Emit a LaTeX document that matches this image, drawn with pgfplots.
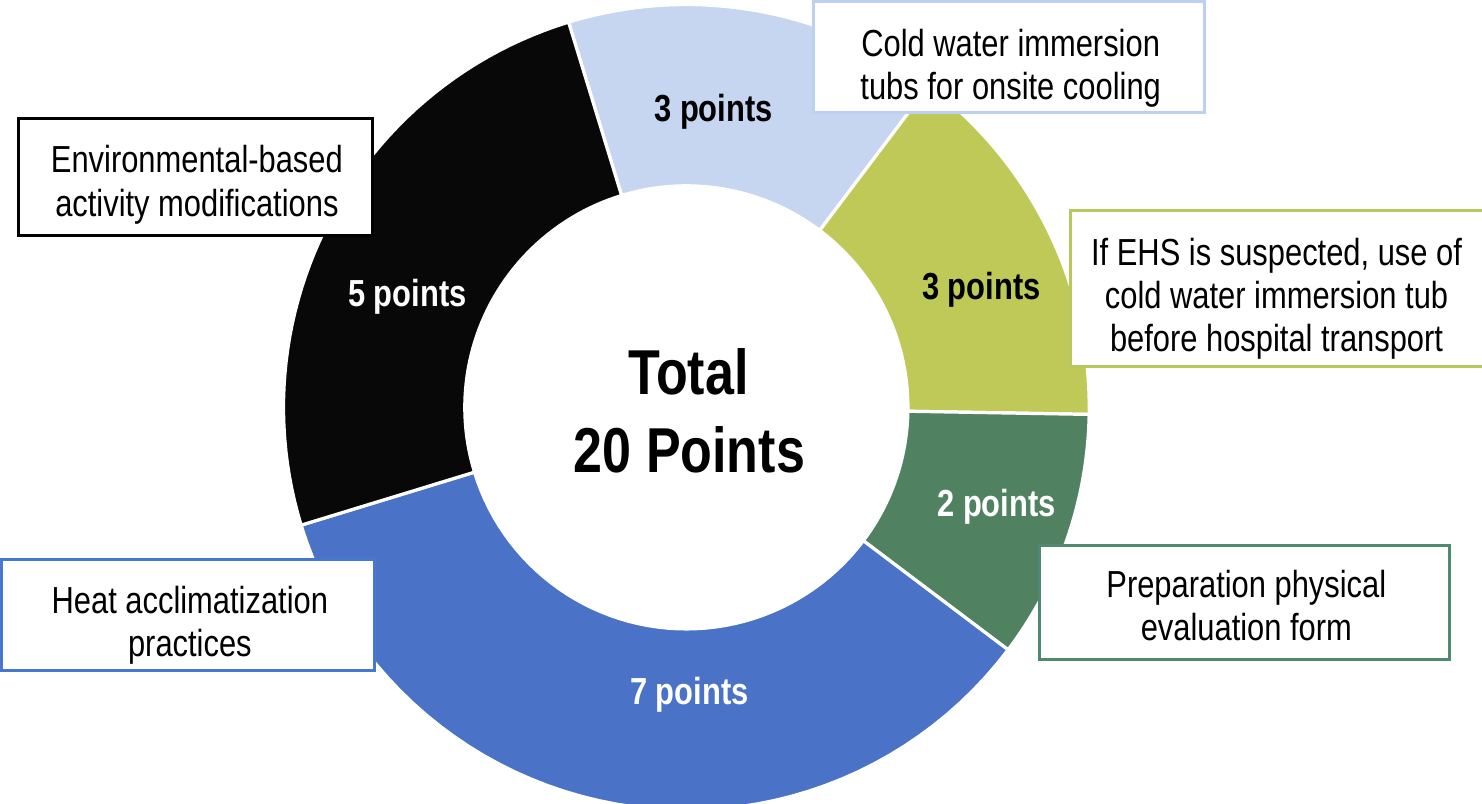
\documentclass[border=0pt]{standalone}
\usepackage{pgfplots}
\pgfplotsset{compat=1.18}
\usepackage{fontspec}
\setmainfont{Liberation Sans}[FakeStretch=0.82]

\definecolor{cLight}{RGB}{198,213,240}
\definecolor{cYel}{RGB}{190,201,88}
\definecolor{cDkg}{RGB}{80,130,98}
\definecolor{cBlue}{RGB}{74,114,198}
\definecolor{cBlk}{RGB}{8,8,8}
\definecolor{bLight}{RGB}{190,208,240}
\definecolor{bYel}{RGB}{184,200,90}
\definecolor{bDkg}{RGB}{78,138,112}
\definecolor{bBlue}{RGB}{70,120,210}

\newcommand\boxfont{\fontsize{18.7}{21.5}\selectfont}
\newcommand\labfont{\fontsize{18.7}{21.5}\selectfont\bfseries}
\newcommand\totfont{\fontsize{31.5}{37.5}\selectfont\bfseries}

% #1 cumulative points before the sector, #2 points of the sector, #3 colour
\newcommand{\sector}[3]{%
  \pgfmathsetmacro\aS{107-18*(#1)}%
  \pgfmathsetmacro\aE{107-18*((#1)+(#2))}%
  \edef\next{\noexpand\addplot[fill=#3, draw=white, line width=1.6pt, line join=round,
      domain=0:102, samples=103, variable=\noexpand\t]
    ({692+(((\noexpand\t<50.5)||(\noexpand\t>101.5))?400:220)*cos(((\noexpand\t<50.5)?(\aS+(\aE-\aS)*\noexpand\t/50):(\aE+(\aS-\aE)*min(\noexpand\t-51,50)/50)))},
     {393+(((\noexpand\t<50.5)||(\noexpand\t>101.5))?400:220)*sin(((\noexpand\t<50.5)?(\aS+(\aE-\aS)*\noexpand\t/50):(\aE+(\aS-\aE)*min(\noexpand\t-51,50)/50)))});}%
  \next}

\begin{document}
\begin{tikzpicture}
\begin{axis}[width=741pt, height=403pt, scale only axis,
  xmin=0, xmax=1482, ymin=0, ymax=806, hide axis, clip=true]

% donut: points per item (total 20)
\sector{0}{3}{cLight}
\sector{3}{3}{cYel}
\sector{6}{2}{cDkg}
\sector{8}{7}{cBlue}
\sector{15}{5}{cBlk}

% segment labels
\node[font=\labfont, text=black, anchor=base] at (axis cs:719,{806-129}) {3 points};
\node[font=\labfont, text=black, anchor=base] at (axis cs:985,{806-306}) {3 points};
\node[font=\labfont, text=white, anchor=base] at (axis cs:1000,{806-521}) {2 points};
\node[font=\labfont, text=white, anchor=base] at (axis cs:695,{806-708}) {7 points};
\node[font=\labfont, text=white, anchor=base] at (axis cs:415,{806-313}) {5 points};

% centre text
\node[font=\totfont, anchor=base] at (axis cs:694,{806-400}) {Total};
\node[font=\totfont, anchor=base] at (axis cs:695,{806-478}) {20 Points};

% boxes
\draw[draw=bLight, line width=1.5pt, fill=white] (axis cs:818,{806-10}) rectangle (axis cs:1206,{806-120});
\node[font=\boxfont, align=center] at (axis cs:1014,{806-76}) {Cold water immersion\\tubs for onsite cooling};

\draw[draw=black, line width=1.5pt, fill=white] (axis cs:29,{806-126}) rectangle (axis cs:380,{806-242});
\node[font=\boxfont, align=center] at (axis cs:206,{806-192}) {Environmental-based\\activity modifications};

\draw[draw=bYel, line width=1.5pt, fill=white] (axis cs:1073,{806-218}) rectangle (axis cs:1490,{806-372});
\node[font=\boxfont, align=center] at (axis cs:1278,{806-305}) {If EHS is suspected, use of\\cold water immersion tub\\before hospital transport};

\draw[draw=bDkg, line width=1.5pt, fill=white] (axis cs:1043,{806-550}) rectangle (axis cs:1450,{806-663});
\node[font=\boxfont, align=center] at (axis cs:1248,{806-610}) {Preparation physical\\evaluation form};

\draw[draw=bBlue, line width=1.5pt, fill=white] (axis cs:12,{806-564}) rectangle (axis cs:382,{806-674});
\node[font=\boxfont, align=center] at (axis cs:199,{806-629}) {Heat acclimatization\\practices};

\end{axis}
\end{tikzpicture}
\end{document}
